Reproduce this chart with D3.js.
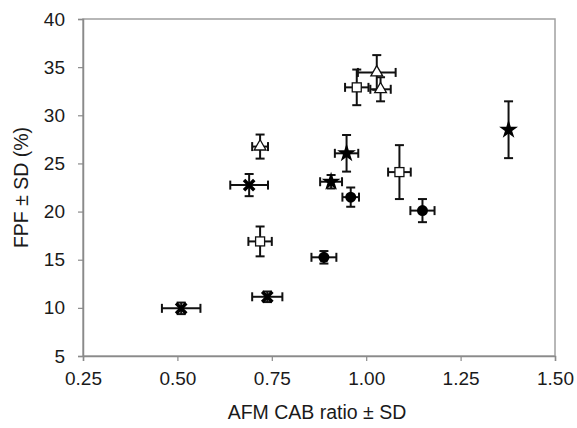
<!DOCTYPE html>
<html><head><meta charset="utf-8">
<script src="https://cdn.jsdelivr.net/npm/d3@7"></script>
<style>body{margin:0;background:#fff}svg{display:block}text{font-family:"Liberation Sans",Arial,sans-serif}</style>
</head><body><svg width="577" height="428"></svg>
<script>
const xTicks = [0.25, 0.50, 0.75, 1.00, 1.25, 1.50];
const yTicks = [5, 10, 15, 20, 25, 30, 35, 40];
// series: open squares
const squareX = [0.975, 1.088, 0.719];
const squareY = [32.9, 24.1, 16.9];
const squareXErr = [0.031, 0.030, 0.031];
const squareYErr = [1.85, 2.8, 1.55];
// open triangles
const triX = [1.028, 1.038, 0.719];
const triY = [34.45, 32.7, 26.75];
const triXErr = [0.050, 0.027, 0.021];
const triYErr = [1.8, 1.25, 1.25];
// filled stars
const starX = [1.377, 0.948, 0.907];
const starY = [28.5, 26.05, 23.1];
const starXErr = [0.0, 0.031, 0.029];
const starYErr = [2.95, 1.9, 0.7];
// filled circles
const circX = [0.959, 1.149, 0.888];
const circY = [21.5, 20.1, 15.25];
const circXErr = [0.022, 0.032, 0.033];
const circYErr = [1.0, 1.2, 0.65];
// crosses
const crossX = [0.690, 0.738, 0.510];
const crossY = [22.75, 11.15, 9.95];
const crossXErr = [0.050, 0.040, 0.051];
const crossYErr = [1.15, 0.55, 0.6];

const svg = d3.select("svg");
const L = 83, R = 555, T = 19, B = 356;
const x = d3.scaleLinear().domain([0.25, 1.5]).range([L, R]);
const y = d3.scaleLinear().domain([5, 40]).range([B, T]);
const grey = "#8a8a8a";

// frame
svg.append("rect").attr("x", L).attr("y", T).attr("width", R - L).attr("height", B - T)
  .attr("fill", "none").attr("stroke", "#a0a0a0").attr("stroke-width", 1.5);

const xAxis = svg.append("g").attr("transform", `translate(0,${B})`)
  .call(d3.axisBottom(x).tickValues(xTicks).tickFormat(d3.format(".2f")).tickSize(5).tickPadding(11));
const yAxis = svg.append("g").attr("transform", `translate(${L},0)`)
  .call(d3.axisLeft(y).tickValues(yTicks).tickSize(5).tickPadding(13));
[xAxis, yAxis].forEach(g => {
  g.select(".domain").attr("stroke", grey).attr("stroke-width", 1.5);
  g.selectAll(".tick line").attr("stroke", grey).attr("stroke-width", 1.2);
  g.selectAll(".tick text").attr("fill", "#1a1a1a").style("font-size", "19px");
});

svg.append("text").attr("x", (L + R) / 2 - 2).attr("y", 419).attr("text-anchor", "middle")
  .style("font-size", "19.5px").attr("fill", "#1a1a1a").text("AFM CAB ratio ± SD");
svg.append("text").attr("transform", `translate(28,${(T + B) / 2}) rotate(-90)`)
  .attr("text-anchor", "middle").style("font-size", "19.5px").attr("fill", "#1a1a1a").text("FPF ± SD (%)");

const series = [
  {xs: squareX, ys: squareY, xe: squareXErr, ye: squareYErr, type: "square"},
  {xs: triX, ys: triY, xe: triXErr, ye: triYErr, type: "triangle"},
  {xs: starX, ys: starY, xe: starXErr, ye: starYErr, type: "star"},
  {xs: circX, ys: circY, xe: circXErr, ye: circYErr, type: "circle"},
  {xs: crossX, ys: crossY, xe: crossXErr, ye: crossYErr, type: "cross"}
];
const cap = 4.5;
const eb = svg.append("g").attr("stroke", "#111").attr("stroke-width", 2);
series.forEach(s => {
  s.xs.forEach((xv, i) => {
    const cx = x(xv), cy = y(s.ys[i]);
    const y0 = y(s.ys[i] - s.ye[i]), y1 = y(s.ys[i] + s.ye[i]);
    eb.append("line").attr("x1", cx).attr("x2", cx).attr("y1", y0).attr("y2", y1);
    eb.append("line").attr("x1", cx - cap).attr("x2", cx + cap).attr("y1", y0).attr("y2", y0);
    eb.append("line").attr("x1", cx - cap).attr("x2", cx + cap).attr("y1", y1).attr("y2", y1);
    if (s.xe[i] > 0) {
      const x0 = x(xv - s.xe[i]), x1 = x(xv + s.xe[i]);
      eb.append("line").attr("x1", x0).attr("x2", x1).attr("y1", cy).attr("y2", cy);
      eb.append("line").attr("x1", x0).attr("x2", x0).attr("y1", cy - cap).attr("y2", cy + cap);
      eb.append("line").attr("x1", x1).attr("x2", x1).attr("y1", cy - cap).attr("y2", cy + cap);
    }
  });
});

const mk = svg.append("g");
series.forEach(s => {
  s.xs.forEach((xv, i) => {
    const cx = x(xv), cy = y(s.ys[i]);
    const g = mk.append("g").attr("transform", `translate(${cx},${cy})`);
    if (s.type === "square") {
      g.append("rect").attr("x", -4.5).attr("y", -4.5).attr("width", 9).attr("height", 9)
        .attr("fill", "#fff").attr("stroke", "#111").attr("stroke-width", 1.3);
    } else if (s.type === "triangle") {
      g.append("path").attr("d", d3.symbol(d3.symbolTriangle, 60)())
        .attr("fill", "#fff").attr("stroke", "#111").attr("stroke-width", 1.3);
    } else if (s.type === "star") {
      g.append("path").attr("d", d3.symbol(d3.symbolStar, 110)()).attr("fill", "#000");
    } else if (s.type === "circle") {
      g.append("path").attr("d", d3.symbol(d3.symbolCircle, 95)()).attr("fill", "#000");
    } else {
      g.append("path").attr("d", d3.symbol(d3.symbolTimes, 70)())
        .attr("fill", "none").attr("stroke", "#000").attr("stroke-width", 3.5);
    }
  });
});
</script></body></html>
